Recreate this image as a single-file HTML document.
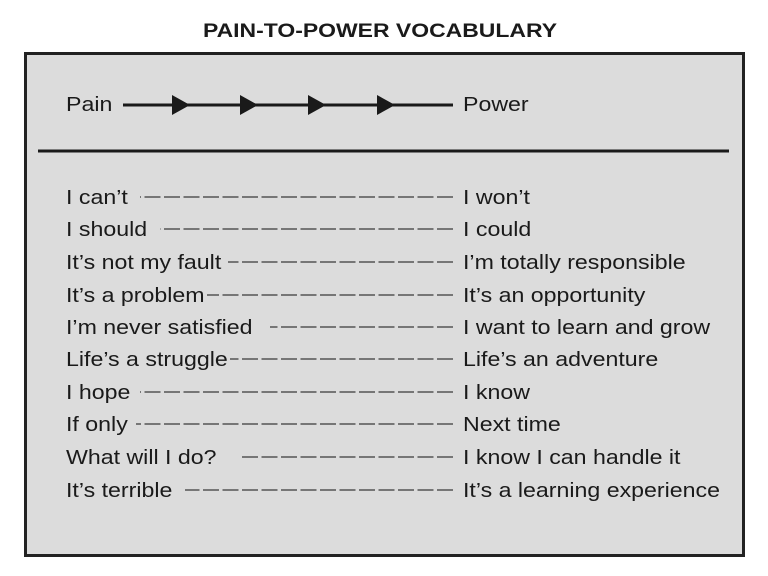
<!DOCTYPE html>
<html><head><meta charset="utf-8"><style>
html,body{margin:0;padding:0;background:#fff;}
svg{display:block;}
text{font-family:"Liberation Sans",Arial,sans-serif;fill:#1a1a1a;}
</style></head><body>
<svg width="768" height="576" viewBox="0 0 768 576" xmlns="http://www.w3.org/2000/svg">
<text x="380" y="37" font-size="19" font-weight="bold" text-anchor="middle" textLength="354" lengthAdjust="spacingAndGlyphs">PAIN-TO-POWER VOCABULARY</text>
<rect x="25.5" y="53.5" width="718" height="502" fill="#dcdcdc" stroke="#222" stroke-width="3"/>
<line x1="123" y1="105" x2="453" y2="105" stroke="#1a1a1a" stroke-width="3"/>
<g fill="#1a1a1a">
<polygon points="172,95 172,115 190,105"/>
<polygon points="240,95 240,115 258,105"/>
<polygon points="308,95 308,115 326,105"/>
<polygon points="377,95 377,115 395,105"/>
</g>
<line x1="38" y1="151" x2="729" y2="151" stroke="#1a1a1a" stroke-width="3"/>
<g stroke="#555" stroke-width="1.5" stroke-dasharray="16,3.5">
<line x1="453" y1="197" x2="140" y2="197"/>
<line x1="453" y1="229" x2="160" y2="229"/>
<line x1="453" y1="262" x2="228" y2="262"/>
<line x1="453" y1="295" x2="207" y2="295"/>
<line x1="453" y1="327" x2="270" y2="327"/>
<line x1="453" y1="359" x2="230" y2="359"/>
<line x1="453" y1="392" x2="140" y2="392"/>
<line x1="453" y1="424" x2="136" y2="424"/>
<line x1="453" y1="457" x2="240" y2="457"/>
<line x1="453" y1="490" x2="185" y2="490"/>
</g>
<g font-size="20.5" transform="translate(66 0) scale(1.13 1)">
<text x="0" y="111">Pain</text>
<text x="0" y="204">I can’t</text>
<text x="0" y="236">I should</text>
<text x="0" y="269">It’s not my fault</text>
<text x="0" y="302">It’s a problem</text>
<text x="0" y="334">I’m never satisfied</text>
<text x="0" y="366">Life’s a struggle</text>
<text x="0" y="399">I hope</text>
<text x="0" y="431">If only</text>
<text x="0" y="464">What will I do?</text>
<text x="0" y="497">It’s terrible</text>
</g>
<g font-size="20.5" transform="translate(463 0) scale(1.13 1)">
<text x="0" y="111">Power</text>
<text x="0" y="204">I won’t</text>
<text x="0" y="236">I could</text>
<text x="0" y="269">I’m totally responsible</text>
<text x="0" y="302">It’s an opportunity</text>
<text x="0" y="334">I want to learn and grow</text>
<text x="0" y="366">Life’s an adventure</text>
<text x="0" y="399">I know</text>
<text x="0" y="431">Next time</text>
<text x="0" y="464">I know I can handle it</text>
<text x="0" y="497">It’s a learning experience</text>
</g>
</svg>
</body></html>
